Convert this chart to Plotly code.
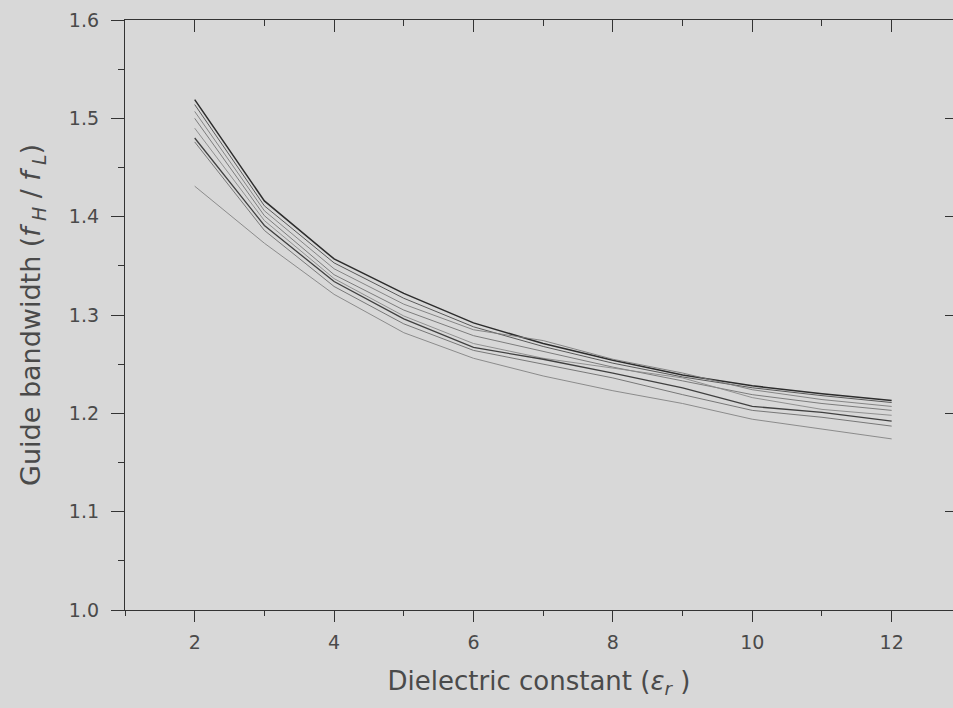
import plotly.graph_objects as go

# Dielectric constant values (x) shared by all curves
eps_r = [2, 3, 4, 5, 6, 7, 8, 9, 10, 11, 12]

# Guide bandwidth fH/fL for each guide geometry
bw_a = [1.519, 1.416, 1.357, 1.322, 1.292, 1.271, 1.254, 1.239, 1.228, 1.220, 1.213]
bw_b = [1.514, 1.411, 1.353, 1.317, 1.288, 1.268, 1.251, 1.237, 1.226, 1.218, 1.211]
bw_c = [1.507, 1.406, 1.347, 1.311, 1.285, 1.274, 1.255, 1.241, 1.224, 1.214, 1.207]
bw_d = [1.500, 1.401, 1.341, 1.305, 1.279, 1.263, 1.247, 1.233, 1.219, 1.210, 1.203]
bw_e = [1.490, 1.396, 1.337, 1.299, 1.271, 1.256, 1.246, 1.236, 1.216, 1.204, 1.198]
bw_f = [1.480, 1.391, 1.334, 1.296, 1.267, 1.255, 1.241, 1.226, 1.207, 1.201, 1.192]
bw_g = [1.476, 1.386, 1.329, 1.291, 1.264, 1.250, 1.236, 1.219, 1.203, 1.196, 1.187]
bw_h = [1.431, 1.373, 1.321, 1.282, 1.256, 1.238, 1.223, 1.210, 1.194, 1.184, 1.174]

series = [bw_a, bw_b, bw_c, bw_d, bw_e, bw_f, bw_g, bw_h]
colors = ["#2c2c2c", "#5a5a5a", "#7c7c7c", "#727272", "#888888", "#404040", "#6c6c6c", "#828282"]
widths = [1.5, 1.0, 0.9, 0.9, 0.9, 1.3, 0.9, 0.9]

x_range = [1, 12.88]
y_range = [1.0, 1.6]
bg = "#d8d8d8"
axis_col = "#333333"
text_col = "#4a4a4a"

fig = go.Figure()
for vals, c, w in zip(series, colors, widths):
    fig.add_trace(go.Scatter(x=eps_r, y=vals, mode="lines",
                             line=dict(color=c, width=w),
                             showlegend=False, hoverinfo="skip"))

# invisible trace so the mirrored top/right axes are drawn
fig.add_trace(go.Scatter(x=[eps_r[0]], y=[bw_a[0]], xaxis="x2", yaxis="y2",
                         mode="markers", marker=dict(opacity=0),
                         showlegend=False, hoverinfo="skip"))

font = "DejaVu Sans, Verdana, sans-serif"

fig.update_layout(
    width=953, height=708,
    margin=dict(l=125, r=0, t=20, b=98),
    paper_bgcolor=bg, plot_bgcolor=bg,
    font=dict(family=font, color=text_col, size=20),
    xaxis=dict(
        range=x_range, tick0=2, dtick=2, ticks="outside", ticklen=11,
        tickwidth=1.2, tickcolor=axis_col, showline=True, linecolor=axis_col,
        linewidth=1.3, showgrid=False, zeroline=False,
        tickfont=dict(size=19, color=text_col), ticklabelstandoff=4,
        minor=dict(tick0=1, dtick=1, ticks="outside", ticklen=5,
                   tickcolor=axis_col, tickwidth=1.2, showgrid=False),
        title=dict(text="Dielectric constant (<i>ε</i><sub><i>r</i></sub> )",
                   font=dict(size=26, color=text_col), standoff=19),
    ),
    yaxis=dict(
        range=y_range, tick0=1.0, dtick=0.1, tickformat=".1f", ticks="outside",
        ticklen=13, tickwidth=1.2, tickcolor=axis_col, showline=True,
        linecolor=axis_col, linewidth=1.3, showgrid=False, zeroline=False,
        tickfont=dict(size=19, color=text_col), ticklabelstandoff=8,
        minor=dict(tick0=1.05, dtick=0.1, ticks="outside", ticklen=6,
                   tickcolor=axis_col, tickwidth=1.2, showgrid=False),
        title=dict(text="Guide bandwidth (<i>f</i><sub> <i>H</i></sub> / <i>f</i><sub> <i>L</i></sub>)",
                   font=dict(size=27, color=text_col), standoff=20),
    ),
    xaxis2=dict(
        overlaying="x", side="top", range=x_range, tick0=2, dtick=2,
        ticks="inside", ticklen=12, tickwidth=1.2, tickcolor=axis_col,
        showline=True, linecolor=axis_col, linewidth=1.3,
        showticklabels=False, showgrid=False, zeroline=False,
        minor=dict(tick0=1, dtick=1, ticks="inside", ticklen=6,
                   tickcolor=axis_col, tickwidth=1.2, showgrid=False),
    ),
    yaxis2=dict(
        overlaying="y", side="right", range=y_range, tick0=1.0, dtick=0.1,
        ticks="inside", ticklen=8, tickwidth=1.2, tickcolor=axis_col,
        showline=False, showticklabels=False, showgrid=False, zeroline=False,
    ),
)

fig.write_html("out.html")
